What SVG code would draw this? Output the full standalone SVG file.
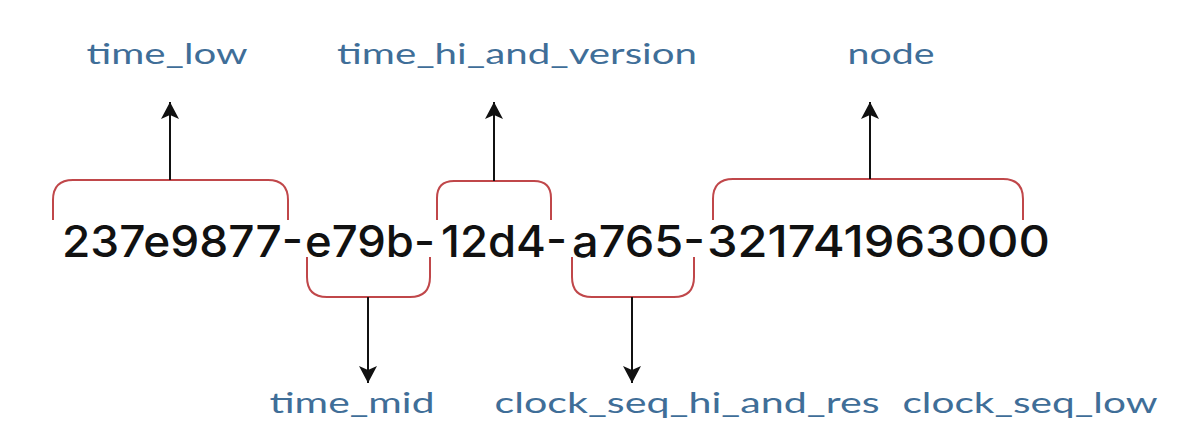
<svg xmlns="http://www.w3.org/2000/svg" width="1200" height="438" viewBox="0 0 1200 438">
<style>
.uuid{font-family:Inter,"Liberation Sans",sans-serif;font-size:44px;font-weight:500;fill:#111}
.lbl{font-family:Lato,"Noto Sans","Liberation Sans",sans-serif;font-size:29px;fill:#3f6e98}
.br{fill:none;stroke:#c0474a;stroke-width:2}
.ar{fill:none;stroke:#111;stroke-width:2}
</style>
<defs>
<marker id="ah" viewBox="0 0 17 18" refX="17" refY="9" markerWidth="17" markerHeight="18" markerUnits="userSpaceOnUse" orient="auto">
<path d="M0,0 L17,9 L0,18 L4,9 z" fill="#111"/>
</marker>
</defs>
<rect width="1200" height="438" fill="#fff"/>
<g id="uuid-text">
<text class="uuid" y="257"><tspan x="62" textLength="241" lengthAdjust="spacingAndGlyphs">237e9877-</tspan><tspan x="305" textLength="130" lengthAdjust="spacingAndGlyphs">e79b-</tspan><tspan x="441" textLength="126" lengthAdjust="spacingAndGlyphs">12d4-</tspan><tspan x="572" textLength="133" lengthAdjust="spacingAndGlyphs">a765-</tspan><tspan x="707" textLength="343" lengthAdjust="spacingAndGlyphs">321741963000</tspan></text>
</g>
<g id="time_low">
<path class="br" d="M53,220 V200 Q53,180 73,180 H268 Q288,180 288,200 V220"/>
<text class="lbl" x="167" y="64" text-anchor="middle" textLength="161" lengthAdjust="spacingAndGlyphs">time_low</text>
</g>
<g id="time_hi_and_version">
<path class="br" d="M437,220 V198 Q437,181 454,181 H534 Q551,181 551,198 V220"/>
<text class="lbl" x="517" y="64" text-anchor="middle" textLength="360" lengthAdjust="spacingAndGlyphs">time_hi_and_version</text>
</g>
<g id="node">
<path class="br" d="M713,220 V199 Q713,179 733,179 H1003 Q1023,179 1023,199 V220"/>
<text class="lbl" x="891" y="64" text-anchor="middle" textLength="87" lengthAdjust="spacingAndGlyphs">node</text>
</g>
<g id="time_mid">
<path class="br" d="M307,257 V277 Q307,297 327,297 H410 Q430,297 430,277 V257"/>
<text class="lbl" x="352" y="413" text-anchor="middle" textLength="165" lengthAdjust="spacingAndGlyphs">time_mid</text>
</g>
<g id="clock_seq_hi_and_res">
<path class="br" d="M572,257 V277 Q572,297 592,297 H674 Q694,297 694,277 V257"/>
<text class="lbl" x="687" y="413" text-anchor="middle" textLength="385" lengthAdjust="spacingAndGlyphs">clock_seq_hi_and_res</text>
</g>
<g id="clock_seq_low">
<text class="lbl" x="1030" y="413" text-anchor="middle" textLength="255" lengthAdjust="spacingAndGlyphs">clock_seq_low</text>
</g>
<g id="connectors">
<line class="ar" x1="170" y1="180" x2="170" y2="102" marker-end="url(#ah)"/>
<line class="ar" x1="494" y1="181" x2="494" y2="102" marker-end="url(#ah)"/>
<line class="ar" x1="870" y1="179" x2="870" y2="102" marker-end="url(#ah)"/>
<line class="ar" x1="368" y1="297" x2="368" y2="383" marker-end="url(#ah)"/>
<line class="ar" x1="632" y1="297" x2="632" y2="383" marker-end="url(#ah)"/>
</g>
</svg>
